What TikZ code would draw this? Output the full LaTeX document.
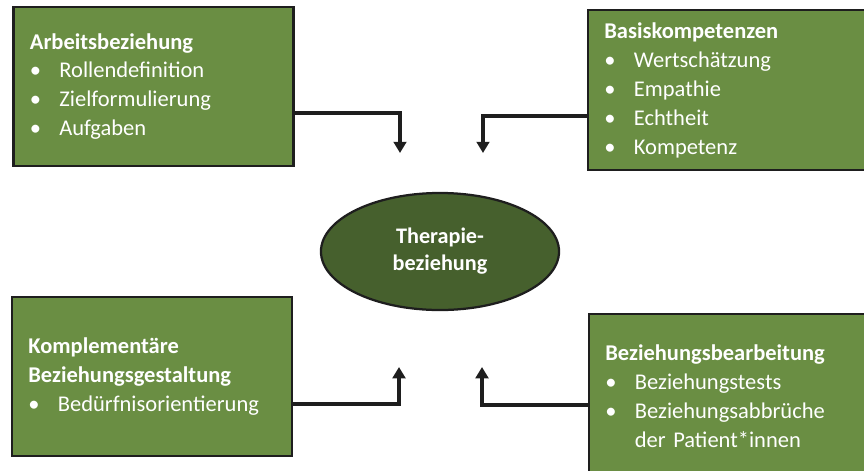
\documentclass[tikz,border=0pt]{standalone}
\usepackage{fontspec}
\setmainfont{Carlito}
\usetikzlibrary{arrows.meta,shapes.geometric,positioning}
\definecolor{boxgreen}{RGB}{106,142,67}
\definecolor{coregreen}{RGB}{70,96,45}
\definecolor{edgegray}{RGB}{30,30,30}
\newcommand{\bul}[1]{\par\noindent\makebox[21pt][l]{\textbullet}%
    \parbox[t]{\dimexpr\linewidth-21pt\relax}{\raggedright #1}}

\begin{document}
\begin{tikzpicture}[
        x=0.025cm, y=-0.025cm,
        block/.style={rectangle, draw=edgegray, line width=1.6pt, fill=boxgreen, text=white,
                      inner xsep=0.41cm, inner ysep=0pt, align=left, text width=6.18cm,
                      minimum height=3.975cm, font=\fontsize{16}{20.6}\selectfont},
        core/.style={ellipse, draw=edgegray, line width=1.6pt, fill=coregreen, text=white,
                     minimum width=5.95cm, minimum height=2.925cm, align=center,
                     font=\bfseries\fontsize{15.8}{19.2}\selectfont},
        line/.style={draw=edgegray, line width=2.4pt, -{Triangle[width=9pt,length=8pt]}}
    ]
    \useasboundingbox (0,0) rectangle (864,470);
    \clip (0,0) rectangle (864,470);

    \node [core] (therapie) at (440,251.5) {Therapie-\\beziehung};

    \node [block] (arbeit) at (153.5,86.5) {\textbf{Arbeitsbeziehung}
        \bul{Rollendefinition}
        \bul{Zielformulierung}
        \bul{Aufgaben}};
    \node [block, text width=6.23cm, minimum height=4cm] (basis) at (729,90) {\textbf{Basiskompetenzen}
        \bul{Wertschätzung}
        \bul{Empathie}
        \bul{Echtheit}
        \bul{Kompetenz}};
    \node [block] (komplement) at (152,376.5) {\textbf{Komplementäre}\\\textbf{Beziehungsgestaltung}
        \bul{Bedürfnisorientierung}};
    \node [block, text width=6.205cm, minimum height=4.1cm] (bearbeitung) at (729.5,396) {\textbf{Beziehungsbearbeitung}
        \bul{Beziehungstests}
        \bul{Beziehungsabbrüche\\der Patient*innen}};

    % Pfeile zur Therapiebeziehung
    \coordinate (inA) at (400,153);
    \coordinate (inB) at (483,153);
    \coordinate (inC) at (399,367);
    \coordinate (inD) at (482,367);

    \draw [line] ([yshift=-0.6625cm]arbeit.east) -| (inA);
    \draw [line] ([yshift=-0.65cm]basis.west) -| (inB);
    \draw [line] ([yshift=-0.6875cm]komplement.east) -| (inC);
    \draw [line] ([yshift=-0.225cm]bearbeitung.west) -| (inD);
\end{tikzpicture}
\end{document}
